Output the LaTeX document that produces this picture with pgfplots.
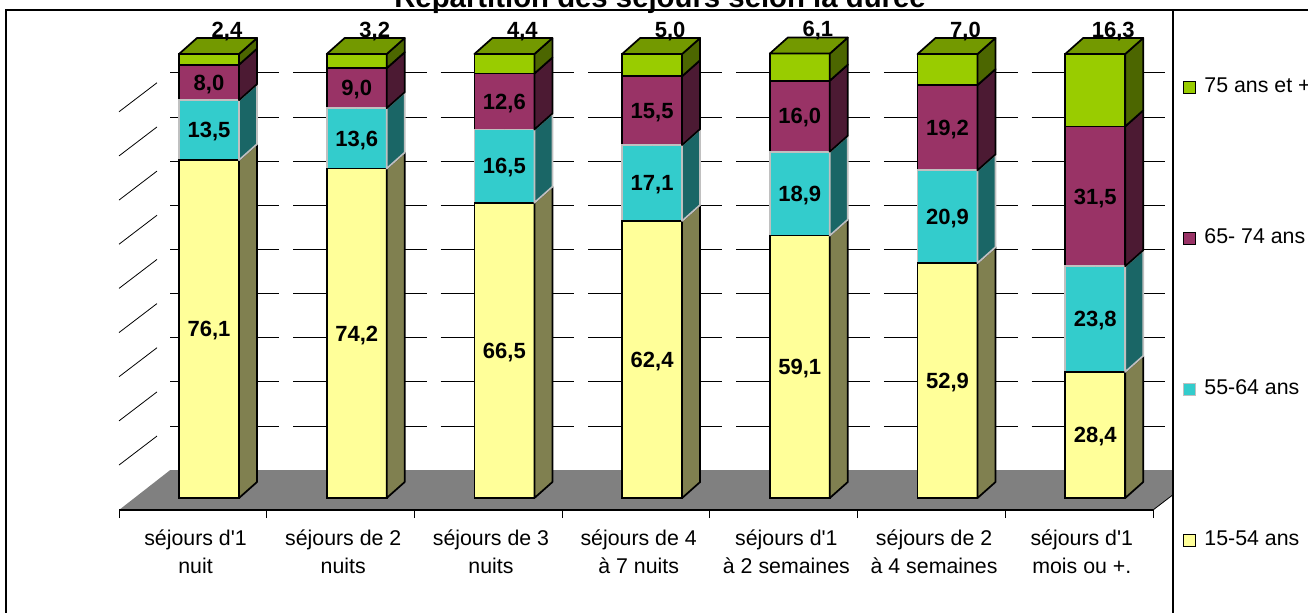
\documentclass[border=0pt]{standalone}
\usepackage{pgfplots}
\usepackage{pgfplotstable}
\pgfplotsset{compat=1.18}
\usepackage{fontspec}
\setmainfont{Liberation Sans}

\definecolor{yfront}{HTML}{FFFF99}
\definecolor{yside}{HTML}{808050}
\definecolor{tfront}{HTML}{33CCCC}
\definecolor{tside}{HTML}{1A6666}
\definecolor{mfront}{HTML}{993366}
\definecolor{mside}{HTML}{4C1A33}
\definecolor{gfront}{HTML}{99CC00}
\definecolor{gside}{HTML}{4C6600}
\definecolor{gtop}{HTML}{739900}
\definecolor{floorgray}{HTML}{808080}
\definecolor{tedge}{HTML}{C0C0C0}

\pgfplotstableread{
x a b c d
0 76.1 13.5 8.0 2.4
1 74.2 13.6 9.0 3.2
2 66.5 16.5 12.6 4.4
3 62.4 17.1 15.5 5.0
4 59.1 18.9 16.0 6.1
5 52.9 20.9 19.2 7.0
6 28.4 23.8 31.5 16.3
}\data

\pgfplotsset{
  barplane/.style={scale only axis, width=775.425pt, height=333pt,
    at={(101.3625pt,-373.5pt)}, anchor=south west,
    xmin=-0.5, xmax=6.5, ymin=0, ymax=100, hide axis, clip=false},
  lbl/.style={draw=none, mark=none, point meta=explicit,
    nodes near coords={\pgfmathprintnumber[fixed,fixed zerofill,precision=1,use comma,assume math mode=true]{\pgfplotspointmeta}},
    every node near coord/.style={anchor=base, inner sep=0pt, font=\fontsize{16.5}{19}\selectfont\bfseries, yshift=-5.8pt}},
}

% side face of a segment: args col, cum expr, fill, edge, width
\newcommand{\sideplot}[5]{%
 \addplot[only marks, mark=*, mark size=0pt, mark options={draw=none,fill=none}, scatter,
   visualization depends on={\thisrow{#1} \as \seg},
   scatter/@pre marker code/.code={%
     \filldraw[fill=#3, draw=#4, line width=#5, line join=round]
       (22.5pt,0pt) -- (36pt,12pt) -- (36pt,{12pt-\seg*3.33pt}) -- (22.5pt,{-\seg*3.33pt}) -- cycle;},
   scatter/@post marker code/.code={}]
   table[x=x, y expr={#2}] \data;}

\begin{document}
\begin{tikzpicture}
\useasboundingbox (0,0) rectangle (981pt,-459pt);
\begin{scope}[x=0.75pt,y=-0.75pt]
 \fill[floorgray] (119,510) -- (1153,510) -- (1173,494.7) -- (1173,470.2) -- (170,470.2) -- cycle;
 \draw[line width=0.6pt] (1153,510) -- (1173,494.7);
 \foreach \v in {1,...,9} {\draw[line width=0.6pt] (119,{470.2-44.16*\v+39}) -- (157,{470.2-44.16*\v+10});}
 \draw[line width=0.8pt] (6,10) rectangle (1330,640);
 \draw[line width=0.8pt] (1173,10) -- (1173,640);
\end{scope}

% back wall grid
\begin{axis}[scale only axis, width=752.25pt, height=331.2pt, at={(127.5pt,-352.65pt)}, anchor=south west,
  xmin=0, xmax=1, ymin=0, ymax=100, ytick={10,20,...,90}, xtick=\empty, ymajorgrids,
  grid style={black, line width=0.6pt, dash pattern=on 100.275pt off 10.5pt, dash phase=18.525pt},
  axis line style={draw=none}, yticklabels={},
  major tick length=0pt]
\addplot[draw=none] coordinates {(0,0)};
\end{axis}

% front faces (stacked bars)
\begin{axis}[barplane, ybar stacked, bar width=45pt,
  every axis plot post/.append style={legend image code/.code={\draw[##1, line width=0.9pt] (0pt,-4.5pt) rectangle (9pt,4.5pt);}},
  reverse legend,
  legend style={at={(1.01349,0.9459)}, anchor=north west, draw=none, fill=none, inner sep=0pt,
    row sep=99.25pt, column sep=6pt, font=\fontsize{16}{19}\selectfont,
    cells={anchor=west}, nodes={inner sep=0pt, text height=11pt, text depth=3pt}},
]
\addplot[fill=yfront, draw=black, line width=1.3pt] table[x=x,y=a] \data; \addlegendentry{15-54 ans}
\addplot[fill=tfront, draw=tedge, line width=1.3pt] table[x=x,y=b] \data; \addlegendentry{55-64 ans}
\addplot[fill=mfront, draw=black, line width=1.3pt] table[x=x,y=c] \data; \addlegendentry{65- 74 ans}
\addplot[fill=gfront, draw=black, line width=1.3pt] table[x=x,y=d] \data; \addlegendentry{75 ans et +}
\end{axis}

% side faces, top faces, labels
\begin{axis}[barplane]
\sideplot{a}{\thisrow{a}}{yside}{black}{1.3pt}
\sideplot{b}{\thisrow{a}+\thisrow{b}}{tside}{tedge}{1.3pt}
\sideplot{c}{\thisrow{a}+\thisrow{b}+\thisrow{c}}{mside}{black}{1.3pt}
\addplot[only marks, mark=*, mark size=0pt, mark options={draw=none,fill=none}, scatter,
   visualization depends on={\thisrow{d} \as \seg},
   scatter/@pre marker code/.code={%
     \filldraw[fill=gside, draw=black, line width=1.3pt, line join=round]
       (22.5pt,0pt) -- (36pt,12pt) -- (36pt,{12pt-\seg*3.33pt}) -- (22.5pt,{-\seg*3.33pt}) -- cycle;
     \filldraw[fill=gtop, draw=black, line width=1.3pt, line join=round]
       (-22.5pt,0pt) -- (-9pt,12pt) -- (36pt,12pt) -- (22.5pt,0pt) -- cycle;},
   scatter/@post marker code/.code={}]
   table[x=x, y expr={\thisrow{a}+\thisrow{b}+\thisrow{c}+\thisrow{d}}] \data;
\addplot[lbl] table[x=x, y expr={\thisrow{a}/2}, meta=a] \data;
\addplot[lbl] table[x=x, y expr={\thisrow{a}+\thisrow{b}/2}, meta=b] \data;
\addplot[lbl] table[x=x, y expr={\thisrow{a}+\thisrow{b}+\thisrow{c}/2}, meta=c] \data;
\addplot[lbl, every node near coord/.append style={yshift=18.3pt, xshift=13.5pt}]
   table[x=x, y expr={\thisrow{a}+\thisrow{b}+\thisrow{c}+\thisrow{d}}, meta=d] \data;
\end{axis}

% x axis with category labels
\begin{axis}[scale only axis, width=775.5pt, height=10pt, at={(89.25pt,-382.5pt)}, anchor=south west,
  xmin=-0.5, xmax=6.5, ymin=0, ymax=1,
  axis x line*=bottom, axis y line=none, ytick=\empty,
  axis line style={black, line width=0.9pt},
  xtick={0,...,6},
  xticklabels={{séjours d\textquotesingle 1\\nuit},{séjours de 2\\nuits},{séjours de 3\\nuits},{séjours de 4\\à 7 nuits},{séjours d\textquotesingle 1\\à 2 semaines},{séjours de 2\\à 4 semaines},{séjours d\textquotesingle 1\\mois ou +.}},
  major tick length=0pt,
  minor xtick={-0.5,0.5,...,6.5}, minor tick length=6pt, tick align=outside,
  every minor tick/.append style={black, line width=0.7pt},
  xticklabel style={align=center, font=\fontsize{16}{21}\selectfont, inner sep=0pt, anchor=north, yshift=-14.5pt, xshift=2pt},
]
\addplot[draw=none] coordinates {(0,0)};
\end{axis}

\node[anchor=base, inner sep=0pt, font=\fontsize{22}{26}\selectfont\bfseries] at (495pt,-5.25pt) {Répartition des séjours selon la durée};
\end{tikzpicture}
\end{document}
